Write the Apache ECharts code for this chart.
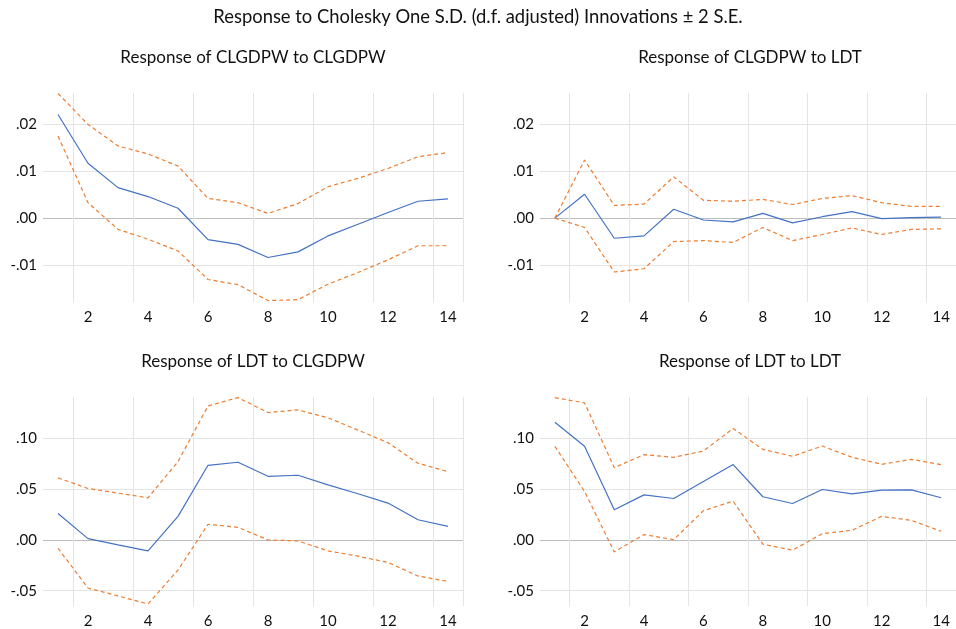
<!DOCTYPE html>
<html>
<head>
<meta charset="utf-8">
<script src="https://cdn.jsdelivr.net/npm/echarts@6/dist/echarts.min.js"></script>
<style>
  html, body { margin: 0; padding: 0; background: #fff; }
  #chart { width: 956px; height: 629px; }
</style>
</head>
<body>
<div id="chart"></div>
<script>
// periods 1..14
let periods = ['1', '2', '3', '4', '5', '6', '7', '8', '9', '10', '11', '12', '13', '14'];

// Response of CLGDPW to CLGDPW
let gg_resp = [0.0221, 0.0117, 0.0065, 0.0046, 0.0021, -0.0046, -0.0056, -0.0084, -0.0072, -0.0038, -0.0013, 0.0012, 0.0036, 0.0041];
let gg_up = [0.0266, 0.0200, 0.0154, 0.0137, 0.0111, 0.0042, 0.0033, 0.0010, 0.0031, 0.0067, 0.0085, 0.0106, 0.0131, 0.0140];
let gg_lo = [0.0175, 0.0033, -0.0024, -0.0045, -0.0070, -0.0131, -0.0142, -0.0176, -0.0174, -0.0141, -0.0116, -0.0089, -0.0059, -0.0059];

// Response of CLGDPW to LDT
let gl_resp = [0, 0.0051, -0.0043, -0.0038, 0.0019, -0.0004, -0.0008, 0.0010, -0.0010, 0.0003, 0.0014, -0.0001, 0.0001, 0.0002];
let gl_up = [0, 0.0124, 0.0027, 0.0030, 0.0088, 0.0038, 0.0036, 0.0040, 0.0029, 0.0042, 0.0048, 0.0033, 0.0025, 0.0025];
let gl_lo = [0, -0.0020, -0.0115, -0.0108, -0.0050, -0.0048, -0.0052, -0.0020, -0.0048, -0.0035, -0.0021, -0.0035, -0.0024, -0.0023];

// Response of LDT to CLGDPW
let lg_resp = [0.0261, 0.0013, -0.0049, -0.0108, 0.0232, 0.0735, 0.0765, 0.0627, 0.0637, 0.0542, 0.0455, 0.0363, 0.0199, 0.0134];
let lg_up = [0.0611, 0.0507, 0.0461, 0.0415, 0.0771, 0.1320, 0.1402, 0.1255, 0.1281, 0.1203, 0.1082, 0.0958, 0.0755, 0.0673];
let lg_lo = [-0.0082, -0.0474, -0.0552, -0.0631, -0.0297, 0.0154, 0.0124, 0.0000, -0.0010, -0.0108, -0.0160, -0.0222, -0.0356, -0.0408];

// Response of LDT to LDT
let ll_resp = [0.1160, 0.0922, 0.0297, 0.0444, 0.0408, 0.0575, 0.0742, 0.0425, 0.0359, 0.0497, 0.0454, 0.0490, 0.0493, 0.0415];
let ll_up = [0.1402, 0.1350, 0.0712, 0.0840, 0.0814, 0.0876, 0.1098, 0.0892, 0.0824, 0.0925, 0.0814, 0.0745, 0.0794, 0.0742];
let ll_lo = [0.0922, 0.0477, -0.0118, 0.0052, 0.0003, 0.0288, 0.0382, -0.0042, -0.0101, 0.0062, 0.0095, 0.0232, 0.0193, 0.0085];

// y tick labels
let topTicks = [-0.01, 0, 0.01, 0.02];
let bottomTicks = [-0.05, 0, 0.05, 0.10];

let myChart = echarts.init(document.getElementById('chart'));

let fontFamily = 'Lato';
let blue = '#4472C4';
let orange = '#ED7D31';

let panels = [
    { title: 'Response of CLGDPW to CLGDPW', left: 43, top: 93, height: 209, ticks: topTicks, min: -0.0179, max: 0.0267, data: [gg_resp, gg_up, gg_lo] },
    { title: 'Response of CLGDPW to LDT', left: 540, top: 93, height: 209, ticks: topTicks, min: -0.0179, max: 0.0267, data: [gl_resp, gl_up, gl_lo] },
    { title: 'Response of LDT to CLGDPW', left: 43, top: 397, height: 210, ticks: bottomTicks, min: -0.0651, max: 0.1408, data: [lg_resp, lg_up, lg_lo] },
    { title: 'Response of LDT to LDT', left: 540, top: 397, height: 210, ticks: bottomTicks, min: -0.0651, max: 0.1408, data: [ll_resp, ll_up, ll_lo] }
];

function fmt(v) {
    let s = v.toFixed(2);
    return s.replace(/^(-?)0\./, '$1.');
}

let titles = [{
    text: 'Response to Cholesky One S.D. (d.f. adjusted) Innovations ± 2 S.E.',
    left: 478,
    top: 8,
    padding: 0,
    textAlign: 'center',
    textStyle: { fontFamily: fontFamily, fontSize: 18.4, fontWeight: 'normal', color: '#111' }
}];
let grids = [];
let xAxes = [];
let yAxes = [];
let series = [];

panels.forEach((p, i) => {
    titles.push({
        text: p.title,
        left: p.left + 210,
        top: p.top - 44,
        padding: 0,
        textAlign: 'center',
        textStyle: { fontFamily: fontFamily, fontSize: 17, fontWeight: 'normal', color: '#111' }
    });
    grids.push({ left: p.left, top: p.top, width: 420, height: p.height, containLabel: false });
    xAxes.push({
        type: 'category',
        gridIndex: i,
        data: periods,
        boundaryGap: true,
        axisLine: { show: false },
        axisTick: { show: false, interval: (idx) => idx % 2 === 1 },
        axisLabel: {
            interval: (idx) => idx % 2 === 1,
            margin: 8,
            fontFamily: fontFamily,
            fontSize: 15,
            color: '#111'
        },
        splitLine: {
            show: true,
            interval: (idx) => idx % 2 === 1,
            lineStyle: { color: '#e4e4e4', width: 1 }
        }
    });
    yAxes.push({
        type: 'value',
        gridIndex: i,
        min: p.min,
        max: p.max,
        axisLine: { show: false },
        axisTick: { show: false, customValues: p.ticks },
        axisLabel: {
            customValues: p.ticks,
            margin: 6,
            fontFamily: fontFamily,
            fontSize: 15,
            color: '#111',
            formatter: (v) => fmt(v)
        },
        splitLine: {
            show: true,
            lineStyle: { color: ['#e4e4e4', '#bdbdbd', '#e4e4e4', '#e4e4e4'], width: 1 }
        }
    });
    let names = ['response', 'upper', 'lower'];
    p.data.forEach((d, k) => {
        series.push({
            name: names[k],
            type: 'line',
            xAxisIndex: i,
            yAxisIndex: i,
            data: d,
            symbol: 'none',
            silent: true,
            animation: false,
            lineStyle: {
                color: k === 0 ? blue : orange,
                width: 1.2,
                type: k === 0 ? 'solid' : [4, 3]
            }
        });
    });
});

let option = {
    backgroundColor: '#fff',
    animation: false,
    title: titles,
    grid: grids,
    xAxis: xAxes,
    yAxis: yAxes,
    series: series
};
myChart.setOption(option);
</script>
</body>
</html>
